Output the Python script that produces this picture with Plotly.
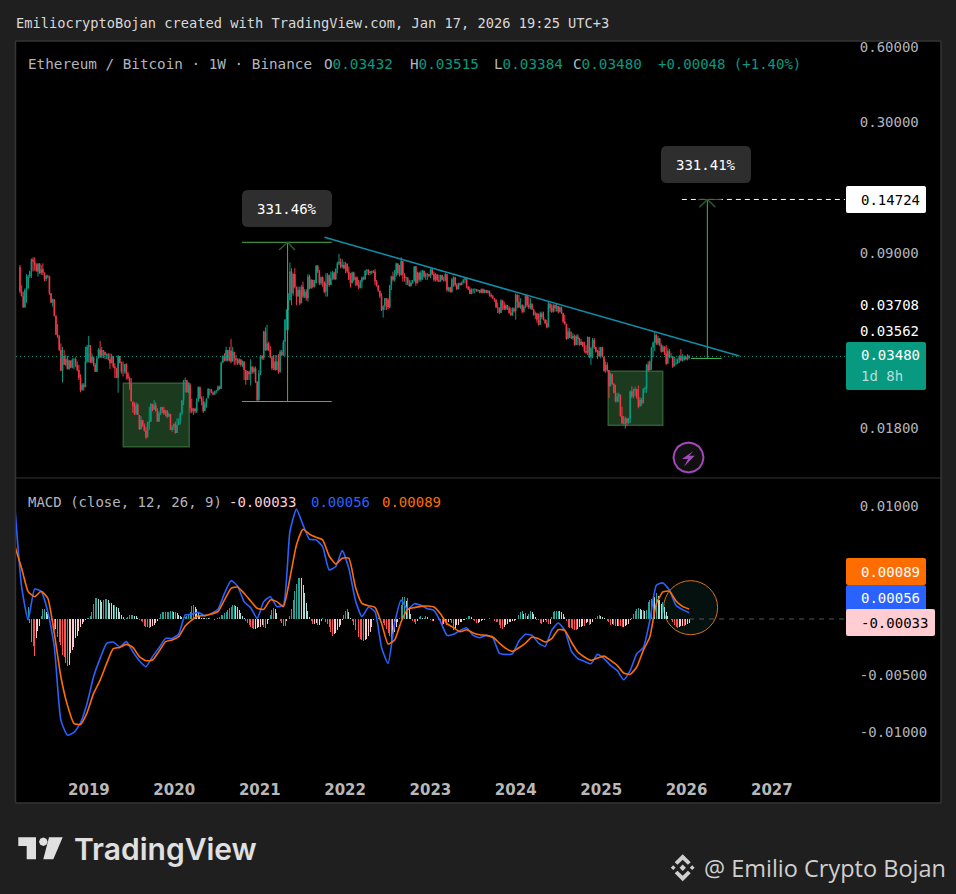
import pandas as pd
import plotly.graph_objects as go

# ETH/BTC weekly, prices in 1e-4 BTC, ten weeks per row
first_open = 790
close_e4 = [
    632,606,545,640,650,725,760,848,830,806,
    760,818,748,775,752,708,730,725,622,570,
    588,505,424,418,369,305,349,322,339,309,
    335,314,337,339,322,307,285,255,268,262,
    332,380,386,329,347,322,302,342,371,347,
    369,363,352,355,339,327,349,317,312,285,
    349,327,302,302,324,297,285,270,230,220,
    206,223,203,178,194,185,176,165,188,191,
    225,213,222,210,191,206,218,213,206,212,
    200,205,177,182,187,172,185,194,206,232,
    278,280,250,268,216,210,215,210,230,262,
    237,230,210,226,236,258,256,249,245,252,
    254,264,258,329,349,335,369,335,367,332,
    363,342,335,327,339,322,332,307,280,302,
    295,317,302,312,276,232,297,349,342,437,
    369,392,369,345,312,332,307,332,302,363,
    352,398,487,533,583,760,622,742,660,603,
    640,566,660,603,630,594,725,650,703,660,
    681,798,760,681,720,692,630,681,737,670,
    714,752,707,775,818,830,794,806,782,818,
    760,703,681,752,703,720,670,655,692,718,
    707,765,770,748,760,752,760,692,670,636,
    603,533,552,594,585,546,670,725,703,737,
    818,748,737,837,737,714,720,681,665,685,
    700,794,681,748,703,752,765,725,737,742,
    730,775,742,703,737,700,692,735,703,700,
    742,640,655,630,707,720,670,645,681,670,
    688,703,714,660,645,618,640,645,647,636,
    640,625,645,625,640,625,636,612,603,594,
    585,546,542,520,581,557,536,557,542,520,
    508,540,527,612,575,546,557,525,550,607,
    557,546,566,536,510,516,487,465,516,500,
    487,472,454,566,542,525,557,542,552,525,
    546,520,480,469,408,437,416,412,420,386,
    418,408,386,398,382,366,360,416,345,375,
    405,378,363,366,349,378,347,305,322,307,
    264,295,270,249,230,241,245,201,188,187,
    197,189,196,252,241,254,258,239,219,233,
    226,258,260,322,307,332,378,395,424,392,
    411,386,363,380,358,325,366,347,349,317,
    325,327,337,349,335,337,347,339,343,348,
]
high_e4 = [
    806,669,631,650,741,737,764,856,865,865,
    818,818,818,806,818,752,737,737,730,622,
    592,588,507,468,424,392,380,369,352,349,
    337,335,342,342,345,332,322,295,272,272,
    380,386,420,360,358,337,327,347,375,401,
    380,365,363,358,358,358,356,349,327,312,
    352,349,332,332,324,327,302,289,285,226,
    228,228,226,203,201,194,188,182,191,219,
    226,222,233,228,216,210,219,219,219,213,
    208,208,203,185,188,191,197,197,208,233,
    280,287,276,274,272,236,217,217,237,264,
    264,241,241,230,237,260,258,258,252,254,
    256,266,266,332,352,358,380,369,380,409,
    380,360,352,342,342,337,335,332,307,305,
    305,339,317,317,317,276,307,352,352,440,
    454,465,398,382,349,352,352,352,355,369,
    369,405,490,537,622,825,782,747,782,660,
    660,660,671,692,645,645,741,737,707,703,
    703,806,806,770,725,725,692,748,748,725,
    758,765,758,782,830,892,856,851,830,830,
    799,794,748,758,758,725,725,703,703,725,
    725,770,777,775,765,765,770,777,703,670,
    636,622,557,594,594,594,670,730,758,770,
    823,818,806,865,818,748,725,714,703,700,
    703,799,799,758,758,765,770,765,752,748,
    737,782,782,758,748,742,737,737,737,725,
    748,725,660,660,714,725,720,681,685,685,
    692,710,718,718,665,660,650,650,650,645,
    645,640,650,650,645,640,640,636,621,612,
    594,588,570,546,588,585,575,562,557,552,
    546,546,546,621,616,612,594,562,557,612,
    612,603,594,557,536,525,520,516,525,525,
    525,490,487,578,566,562,562,562,566,552,
    552,550,514,510,469,454,451,437,430,425,
    425,427,412,408,398,398,386,418,392,380,
    412,412,380,369,380,380,380,347,332,329,
    302,299,297,272,268,249,249,243,219,201,
    200,197,198,254,264,258,264,258,266,239,
    237,260,264,325,332,335,380,398,437,427,
    420,412,392,386,382,386,375,372,358,349,
    347,342,342,352,372,355,351,351,355,352,
]
low_e4 = [
    621,603,545,545,570,650,715,715,760,766,
    760,725,742,735,735,695,695,714,612,570,
    550,502,424,412,366,305,274,322,318,309,
    309,312,312,309,315,303,280,250,254,254,
    264,327,329,327,327,317,302,302,342,342,
    342,342,339,339,335,310,327,312,285,285,
    249,327,297,289,297,281,281,256,230,207,
    203,203,203,177,178,182,174,163,171,177,
    191,210,213,210,191,191,203,206,203,200,
    197,199,177,174,177,171,172,185,186,203,
    222,250,249,248,207,206,203,206,207,230,
    235,222,207,213,217,243,243,248,243,245,
    248,253,256,258,327,332,332,332,332,327,
    332,322,322,322,322,317,315,280,268,280,
    280,266,297,297,272,232,237,293,337,337,
    366,366,366,342,307,307,305,320,297,299,
    349,349,349,443,443,583,557,608,650,557,
    603,557,575,594,594,581,575,645,650,650,
    655,681,748,670,670,660,621,603,603,660,
    670,703,703,703,748,806,782,782,775,748,
    748,703,655,681,692,665,665,645,650,650,
    703,703,735,735,735,742,748,670,660,630,
    594,528,497,533,533,538,542,640,692,692,
    725,735,725,730,692,692,670,670,660,660,
    677,692,665,681,692,692,703,714,703,703,
    720,714,735,692,692,692,688,692,700,692,
    692,630,630,625,625,660,660,640,645,665,
    670,681,681,650,640,616,616,621,621,630,
    630,621,621,621,621,621,621,603,597,590,
    575,542,518,514,518,533,533,533,533,514,
    505,505,520,487,542,542,538,518,520,542,
    546,538,536,533,505,490,475,462,495,490,
    484,469,450,460,525,520,520,525,525,516,
    520,514,472,465,405,412,412,408,405,384,
    386,386,384,386,380,360,356,352,342,322,
    342,372,360,339,345,342,345,302,299,302,
    237,270,268,248,228,228,228,200,187,186,
    179,183,187,188,237,237,241,236,216,222,
    221,230,249,249,302,305,307,345,366,386,
    386,382,360,363,352,322,349,342,342,313,
    322,322,324,327,332,332,335,336,335,338,
]

# MACD in 1e-5, line and signal read every fourth week
macd_e5 = [
    968,287,-9,266,243,65,-246,-897,-1030,-1006,-921,-749,-512,-349,-216,-204,-246,-201,-290,-370,
    -423,-334,-255,-172,-172,-133,36,41,59,30,50,86,228,340,293,154,101,6,154,198,
    110,124,776,975,835,707,702,642,435,465,607,450,169,21,104,65,-252,-394,-38,169,
    83,136,121,92,77,-21,-145,-136,-101,-77,-145,-166,-145,-166,-302,-314,-308,-195,-136,-145,
    -213,-243,-101,-36,-101,-284,-352,-376,-397,-314,-352,-411,-456,-539,-456,-308,-255,-12,299,320,
    255,121,83,56,
]
signal_e5 = [
    642,450,243,198,246,184,-127,-512,-764,-926,-935,-832,-660,-542,-394,-263,-252,-225,-252,-334,
    -370,-364,-287,-201,-186,-157,-62,-9,27,30,44,65,169,272,284,228,160,95,86,169,
    154,110,361,657,796,752,725,702,559,488,539,539,287,139,118,104,-38,-222,-186,-24,
    86,101,112,115,107,47,-41,-77,-112,-95,-124,-139,-145,-160,-213,-260,-287,-255,-213,-160,
    -175,-204,-175,-95,-101,-204,-293,-337,-367,-346,-329,-367,-411,-479,-491,-426,-278,-160,136,240,
    246,160,112,89,
]
hist_e5 = [
    110,-35,-200,-240,-325,-170,-110,-60,30,85,
    85,62,45,20,-10,-55,-95,-85,-160,-200,
    -230,-320,-335,-390,-420,-410,-305,-275,-245,-170,
    -155,-110,-70,-45,-25,-6,5,10,28,60,
    130,190,190,180,165,155,165,175,175,165,
    145,140,125,125,110,95,65,35,15,-5,
    8,20,35,35,35,30,25,10,-5,-15,-30,
    -65,-68,-75,-78,-70,-65,-50,-38,-20,12,
    40,60,65,65,65,65,70,70,65,65,
    50,35,25,15,12,20,28,45,65,115,
    125,110,90,60,30,12,8,5,10,5,
    12,-3,-3,-8,-3,5,20,32,35,50,
    65,80,95,110,125,125,118,105,80,50,
    25,6,-15,-38,-55,-68,-82,-92,-92,-82,
    -68,-68,-55,-75,-82,-40,-10,35,80,95,
    85,50,-3,-22,-38,-60,-65,-22,-3,30,
    90,165,250,310,360,365,360,300,230,140,
    70,20,-15,-45,-45,-35,-55,-50,-20,6,
    -3,-25,-40,-68,-115,-155,-135,-120,-100,-75,
    -55,-5,35,75,85,60,10,-15,-50,-100,
    -135,-160,-175,-190,-195,-190,-180,-155,-115,-70,
    -10,3,5,8,6,4,-35,-55,-90,-125,
    -155,-210,-130,-115,-70,-25,6,120,195,195,
    160,190,110,40,-15,-30,-40,-20,15,25,
    5,10,25,15,3,-6,-18,-15,2,3,
    -6,-20,-50,-40,-30,-55,-25,-5,-35,-95,
    -85,-55,-50,-27,-25,-12,-5,12,25,30,
    22,-6,-15,-35,-32,-25,-18,-12,-6,-2,
    3,6,3,-2,-18,-25,-30,-50,-80,-90,
    -70,-55,-40,-28,-25,-18,-15,-6,2,35,
    65,70,40,50,25,45,70,60,40,15,
    -6,-12,-35,-45,-30,-6,-25,-40,-40,15,
    60,70,75,75,70,60,40,22,-20,-70,
    -78,-80,-85,-95,-100,-85,-75,-70,-60,-65,
    -35,-30,-55,-40,-25,2,12,25,32,28,
    22,10,-3,-15,-30,-50,-45,-55,-65,-58,
    -60,-65,-70,-70,-65,-55,-40,-6,12,40,
    70,90,100,90,78,78,70,80,150,165,
    180,205,195,235,205,165,135,150,105,60,
    25,2,-12,-28,-55,-70,-80,-75,-65,-58,
    -65,-55,-40,-33,
]

year_ticks = ["2019", "2020", "2021", "2022", "2023", "2024", "2025", "2026", "2027"]
price_ticks = [0.6, 0.3, 0.09, 0.018]
price_tick_text = ["0.60000", "0.30000", "0.09000", "0.01800"]
macd_ticks = [0.01, 0.005, -0.005, -0.01]
macd_tick_text = ["0.01000", "0.00500", "-0.00500", "-0.01000"]

last_bar = "2026-01-12"
x_range = ["2018-02-23", "2027-11-10"]
last_price = 0.0348

UP, DOWN = "#089981", "#f23645"
GRAY = "#b2b5be"
FONT = "DejaVu Sans Mono"

dates = pd.date_range(end=last_bar, periods=len(close_e4), freq="7D")
close = [v / 1e4 for v in close_e4]
high = [v / 1e4 for v in high_e4]
low = [v / 1e4 for v in low_e4]
open_ = [first_open / 1e4] + close[:-1]
macd_dates = pd.date_range(end=last_bar, periods=len(macd_e5), freq="28D")
hist_dates = dates[-len(hist_e5):]

# histogram colours depend on direction, same as the TradingView default
# alpha just under 1 makes plotly round the thin bars to one whole pixel
hist_colors = []
for i, v in enumerate(hist_e5):
    prev = hist_e5[i - 1] if i else v
    if v >= 0:
        hist_colors.append("rgba(38,166,154,0.99)" if v >= prev else "rgba(178,223,219,0.99)")
    else:
        hist_colors.append("rgba(255,205,210,0.99)" if v >= prev else "rgba(255,82,82,0.99)")

W, H = 956, 894
L, R, T, B = 16, 845, 41, 768
SPLIT = 478


def px(x):
    return (x - L) / (R - L)


def py(y):
    return (B - y) / (B - T)


def poly(points, close_path=True):
    d = "M" + " L".join(f"{px(x):.5f},{py(y):.5f}" for x, y in points)
    return d + (" Z" if close_path else "")


def rounded(x0, y0, x1, y1, r=3):
    c = lambda x, y: f"{px(x):.5f},{py(y):.5f}"
    return (f"M{c(x0 + r, y0)} L{c(x1 - r, y0)} Q{c(x1, y0)} {c(x1, y0 + r)} "
            f"L{c(x1, y1 - r)} Q{c(x1, y1)} {c(x1 - r, y1)} L{c(x0 + r, y1)} "
            f"Q{c(x0, y1)} {c(x0, y1 - r)} L{c(x0, y0 + r)} Q{c(x0, y0)} {c(x0 + r, y0)} Z")


fig = go.Figure()
# wicks as an OHLC trace without ticks, thin bodies on top
fig.add_trace(go.Ohlc(
    x=dates, open=open_, high=high, low=low, close=close, xaxis="x", yaxis="y", tickwidth=0,
    increasing=dict(line=dict(color=UP, width=1)),
    decreasing=dict(line=dict(color=DOWN, width=1)),
    showlegend=False, hoverinfo="skip"))
for color, is_up in [(UP, True), (DOWN, False)]:
    xs, ys = [], []
    for d, o, c in zip(dates, open_, close):
        if (c >= o) == is_up:
            xs += [d, d, None]
            ys += [o, c, None]
    fig.add_trace(go.Scatter(x=xs, y=ys, xaxis="x", yaxis="y", mode="lines",
                             line=dict(color=color, width=1.6), showlegend=False, hoverinfo="skip"))
fig.add_trace(go.Bar(
    x=hist_dates, y=[v / 1e5 for v in hist_e5], xaxis="x", yaxis="y2",
    marker=dict(color=hist_colors, line=dict(width=0)),
    width=7 * 24 * 3600 * 1000 * 0.61, showlegend=False, hoverinfo="skip"))
fig.add_trace(go.Scatter(
    x=macd_dates, y=[v / 1e5 for v in macd_e5], xaxis="x", yaxis="y2", mode="lines",
    line=dict(color="#2962ff", width=1.6, shape="spline", smoothing=0.5),
    showlegend=False, hoverinfo="skip"))
fig.add_trace(go.Scatter(
    x=macd_dates, y=[v / 1e5 for v in signal_e5], xaxis="x", yaxis="y2", mode="lines",
    line=dict(color="#ff6d00", width=1.6, shape="spline", smoothing=0.5),
    showlegend=False, hoverinfo="skip"))

shapes = []


def seg(x0, y0, x1, y1, color, width=1, dash="solid", yref="y", layer="above"):
    shapes.append(dict(type="line", xref="x", yref=yref, x0=x0, y0=y0, x1=x1, y1=y1,
                       layer=layer, line=dict(color=color, width=width, dash=dash)))


def paper_path(path, fill="rgba(0,0,0,0)", color="rgba(0,0,0,0)", width=0, layer="above"):
    shapes.append(dict(type="path", xref="paper", yref="paper", path=path, layer=layer,
                       fillcolor=fill, line=dict(color=color, width=width)))


# chart frame, the panes only cover the part left of the price axis
paper_path(rounded(15.5, 41, 941, 803, 1), fill="#000000", color="#353535", width=1.5, layer="below")

# consolidation boxes
for x0, x1, y0, y1 in [("2019-05-28", "2020-03-05", 0.02716, 0.01517),
                       ("2025-01-31", "2025-09-21", 0.03035, 0.01847)]:
    shapes.append(dict(type="rect", xref="x", yref="y", x0=x0, x1=x1, y0=y0, y1=y1, layer="below",
                       fillcolor="#1c3a1e", line=dict(color="#2f5f31", width=1.5)))

GREEN = "#4caf50"
ARROW = "#2a5a2c"
# first measure, +331.46%
seg("2020-10-17", 0.0993, "2021-11-05", 0.0993, GREEN)
seg("2020-10-17", 0.02298, "2021-11-05", 0.02298, GREEN)
seg("2021-04-30", 0.02298, "2021-04-30", 0.0993, GREEN)
seg("2021-03-25", 0.0925, "2021-04-30", 0.0993, ARROW, 1.5)
seg("2021-05-31", 0.0925, "2021-04-30", 0.0993, ARROW, 1.5)
# second measure, +331.41%
seg("2026-01-20", 0.03413, "2026-05-31", 0.03413, GREEN)
seg("2026-03-31", 0.03413, "2026-03-31", 0.14724, GREEN)
seg("2025-12-12", 0.14724, x_range[1], 0.14724, "#ffffff", 1, "5px,4px")
seg("2026-02-20", 0.14724, "2026-05-31", 0.14724, "#2e6b30", 1)
seg("2026-02-25", 0.137, "2026-03-31", 0.14724, ARROW, 1.5)
seg("2026-05-05", 0.137, "2026-03-31", 0.14724, ARROW, 1.5)
# falling trend line
seg("2021-10-05", 0.1040, "2026-08-15", 0.03492, "#0e8fa8", 1.5)
# last price line
seg(x_range[0], last_price, x_range[1], last_price, UP, 1, "1px,3px")
# MACD pane
shapes.append(dict(type="circle", xref="x", yref="y2", x0="2025-09-25", x1="2026-05-14", y0=0.0034, y1=-0.00139,
                   layer="below", fillcolor="#04110f", line=dict(color="#e0700f", width=1)))
seg(last_bar, 0, x_range[1], 0, "#555555", 1, "5px,5px", yref="y2")
paper_path(poly([(16, SPLIT), (941, SPLIT)], False), color="#353535", width=1)

# bolt icon
paper_path(poly([(688.5 + 15 * x, 457.5 + 15 * y) for x, y in
                 [(0, -1), (0.38, -0.92), (0.71, -0.71), (0.92, -0.38), (1, 0), (0.92, 0.38), (0.71, 0.71),
                  (0.38, 0.92), (0, 1), (-0.38, 0.92), (-0.71, 0.71), (-0.92, 0.38), (-1, 0), (-0.92, -0.38),
                  (-0.71, -0.71), (-0.38, -0.92)]]),
           fill="#101010", color="#a348b8", width=2)
paper_path(poly([(693.3, 451), (682, 459), (688, 459), (684, 466.7), (694.7, 455.7), (689.3, 455.7)]), fill="#a348b8")

# text pills and axis chips
paper_path(rounded(242, 190, 332, 227, 6), fill="#2e2e2e")
paper_path(rounded(661, 146, 751, 183, 6), fill="#2e2e2e")
paper_path(rounded(846, 186, 926, 213, 2), fill="#ffffff")
paper_path(rounded(846, 342, 926, 390, 2), fill="#089981")
paper_path(rounded(846, 558, 926, 585, 2), fill="#ff6d00")
paper_path(rounded(846, 585, 926, 611, 2), fill="#2962ff")
paper_path(rounded(846, 609, 935, 636, 2), fill="#ffcdd2")

# TradingView logo
LOGO = "#e0e0e0"
paper_path(poly([(18.3, 837.3), (36, 837.3), (36, 859.3), (26.7, 859.3), (26.7, 846), (18.3, 846)]), fill=LOGO)
paper_path(poly([(43.3 + 4.3 * x, 841.7 + 4.3 * y) for x, y in
                 [(0, -1), (0.71, -0.71), (1, 0), (0.71, 0.71), (0, 1), (-0.71, 0.71), (-1, 0), (-0.71, -0.71)]]),
           fill=LOGO)
paper_path(poly([(49, 837.3), (62.7, 837.3), (53.3, 859.3), (43.3, 859.3)]), fill=LOGO)

# exchange diamond next to the signature
MARK = "#cfcfcf"
cx, cy = 682.7, 867.7
for dx, dy, s in [(0, 0, 3.2), (-9.5, 0, 2.4), (9.5, 0, 2.4)]:
    paper_path(poly([(cx + dx, cy + dy - s), (cx + dx + s, cy + dy), (cx + dx, cy + dy + s), (cx + dx - s, cy + dy)]),
               fill=MARK)
for sign in (-1, 1):
    paper_path(poly([(cx, cy + sign * 13.5), (cx + 8, cy + sign * 5.5), (cx + 5.2, cy + sign * 3),
                     (cx, cy + sign * 8), (cx - 5.2, cy + sign * 3), (cx - 8, cy + sign * 5.5)]), fill=MARK)

annotations = []


def label(text, x, y, color=GRAY, size=14, anchor="left", family=FONT, weight=None):
    font = dict(color=color, size=size, family=family)
    if weight:
        font["weight"] = weight
    annotations.append(dict(text=text, xref="paper", yref="paper", x=px(x), y=py(y), xanchor=anchor,
                            yanchor="middle", showarrow=False, font=font, borderpad=0))


label("EmiliocryptoBojan created with TradingView.com, Jan 17, 2026 19:25 UTC+3", 15, 23, "#d8d8d8", 13.7)
label("Ethereum / Bitcoin · 1W · Binance", 27, 64, size=14.3)
for name, value, x in [("O", "0.03432", 323), ("H", "0.03515", 409), ("L", "0.03384", 493), ("C", "0.03480", 572)]:
    label(f"{name}<span style='color:{UP}'>{value}</span>", x, 64, size=14.3)
label("+0.00048 (+1.40%)", 657, 64, UP)
label("MACD (close, 12, 26, 9)", 27, 502)
label("-0.00033", 228, 502, "#ffcdd2")
label("0.00056", 310, 502, "#2962ff")
label("0.00089", 381, 502, "#ff6d00")
label("331.46%", 287, 208.5, "#ffffff", anchor="center")
label("331.41%", 706, 165, "#ffffff", anchor="center")
label("0.14724", 860, 200, "#000000")
label("0.03708", 859, 305, "#ffffff")
label("0.03562", 859, 331, "#ffffff")
label("0.03480", 860, 355, "#ffffff")
label("1d 8h", 860, 376, "#b2dfdb")
label("0.00089", 860, 571.5, "#ffffff")
label("0.00056", 860, 598, "#ffffff")
label("-0.00033", 860, 623, "#000000")
label("TradingView", 73, 849, LOGO, 30, family="Inter", weight=600)
label("@ Emilio Crypto Bojan", 703, 868, MARK, 23.5, family="Open Sans")

fig.update_layout(
    width=W, height=H, autosize=False,
    margin=dict(l=L, r=W - R, t=T, b=H - B),
    paper_bgcolor="#1f1f1f", plot_bgcolor="#000000",
    bargap=0, showlegend=False, dragmode=False,
    shapes=shapes, annotations=annotations,
    xaxis=dict(type="date", range=x_range, anchor="y2", showgrid=False, zeroline=False, showline=False,
               rangeslider=dict(visible=False), tickmode="array",
               tickvals=[f"{y}-01-01" for y in year_ticks], ticktext=year_ticks,
               ticks="outside", ticklen=8, tickcolor="rgba(0,0,0,0)",
               tickfont=dict(color="#b8b8b8", size=15, family="DejaVu Sans", weight="bold")),
    yaxis=dict(type="log", domain=[py(SPLIT), 1], range=[-1.9440, -0.1995], side="right", anchor="x",
               showgrid=False, zeroline=False, showline=False, tickmode="array",
               tickvals=price_ticks, ticktext=price_tick_text,
               ticks="outside", ticklen=11, tickcolor="rgba(0,0,0,0)",
               tickfont=dict(color=GRAY, size=14, family=FONT)),
    yaxis2=dict(domain=[0, py(SPLIT)], range=[-0.013216, 0.012507], side="right", anchor="x",
                showgrid=False, zeroline=False, showline=False, tickmode="array",
                tickvals=macd_ticks, ticktext=macd_tick_text,
                ticks="outside", ticklen=11, tickcolor="rgba(0,0,0,0)",
                tickfont=dict(color=GRAY, size=14, family=FONT)),
)

# the browser's default body margin would push the fixed-size chart off the page
fig.write_html("out.html", config={"displayModeBar": False},
               post_script="document.body.style.margin='0';document.body.style.background='#1f1f1f';")
